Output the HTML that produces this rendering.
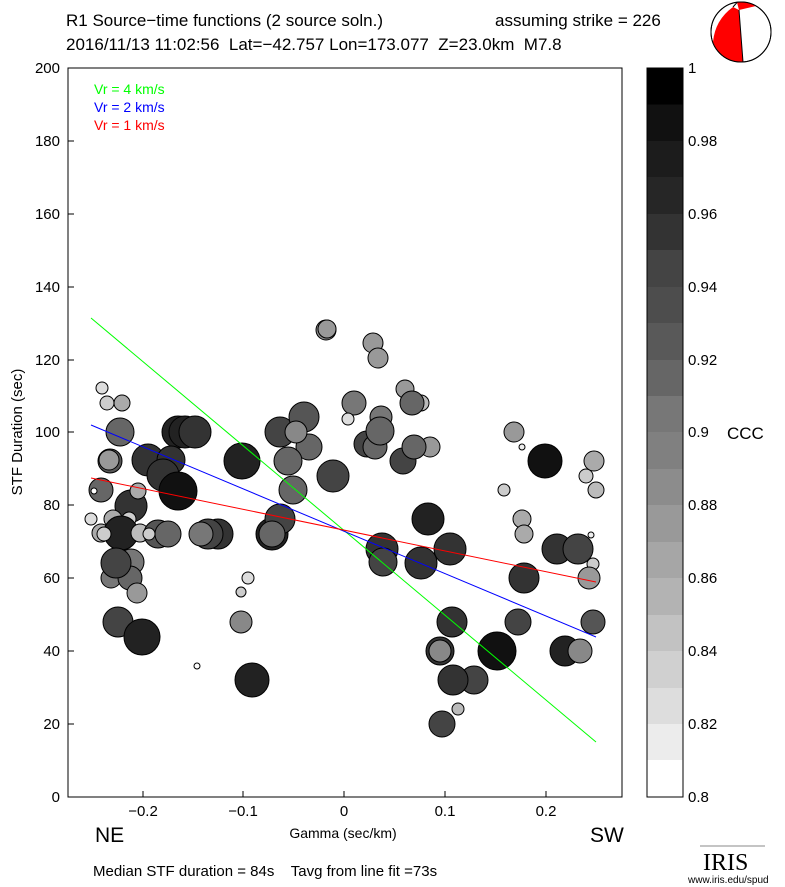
<!DOCTYPE html>
<html><head><style>body{margin:0;background:#fff}svg{display:block;font-family:"Liberation Sans",sans-serif}text{white-space:pre}</style></head><body>
<svg width="785" height="887" viewBox="0 0 785 887" xmlns="http://www.w3.org/2000/svg">
<rect width="785" height="887" fill="#fff"/>
<text x="66" y="26" font-size="17">R1 Source−time functions (2 source soln.)</text>
<text x="495" y="26" font-size="17">assuming strike = 226</text>
<text x="66" y="50" font-size="17">2016/11/13 11:02:56  Lat=−42.757 Lon=173.077  Z=23.0km  M7.8</text>
<g transform="translate(741,32)">
<circle r="30" fill="#fff" stroke="#000"/>
<path d="M-8,-25 L-2,-22 L2,30 A30,30 0 0 1 -28,10 Q -26,-12 -8,-25 Z" fill="#f00"/>
<path d="M-4,-29.5 A30,30 0 0 1 15,-26 L-2,-22 Z" fill="#f00"/>
<path d="M-8,-25 L-4,-29.5 M-2,-22 L2,30" stroke="#000" fill="none"/>
<circle r="30" fill="none" stroke="#000"/>
</g>
<rect x="68" y="68" width="554" height="729" fill="none" stroke="#000"/>
<g stroke="#000">
<line x1="68" y1="797" x2="74" y2="797"/><line x1="68" y1="724" x2="74" y2="724"/><line x1="68" y1="651" x2="74" y2="651"/><line x1="68" y1="578" x2="74" y2="578"/><line x1="68" y1="505" x2="74" y2="505"/><line x1="68" y1="432" x2="74" y2="432"/><line x1="68" y1="360" x2="74" y2="360"/><line x1="68" y1="287" x2="74" y2="287"/><line x1="68" y1="214" x2="74" y2="214"/><line x1="68" y1="141" x2="74" y2="141"/>
<line x1="143" y1="797" x2="143" y2="791"/><line x1="243" y1="797" x2="243" y2="791"/><line x1="344" y1="797" x2="344" y2="791"/><line x1="445" y1="797" x2="445" y2="791"/><line x1="546" y1="797" x2="546" y2="791"/>
</g>
<g font-size="15" text-anchor="end">
<text x="60" y="802">0</text><text x="60" y="729">20</text><text x="60" y="656">40</text><text x="60" y="583">60</text><text x="60" y="510">80</text><text x="60" y="437">100</text><text x="60" y="365">120</text><text x="60" y="292">140</text><text x="60" y="219">160</text><text x="60" y="146">180</text><text x="60" y="73">200</text>
</g>
<g font-size="15" text-anchor="middle">
<text x="143" y="816">−0.2</text><text x="243" y="816">−0.1</text><text x="344" y="816">0</text><text x="445" y="816">0.1</text><text x="546" y="816">0.2</text>
</g>
<text x="343" y="838" font-size="14" text-anchor="middle">Gamma (sec/km)</text>
<text transform="translate(22,432) rotate(-90)" font-size="15" text-anchor="middle">STF Duration (sec)</text>
<text x="95" y="842" font-size="21">NE</text><text x="590" y="842" font-size="21">SW</text>
<text x="93" y="876" font-size="15">Median STF duration = 84s    Tavg from line fit =73s</text>
<text x="94" y="94" font-size="14" fill="#0f0">Vr = 4 km/s</text>
<text x="94" y="112" font-size="14" fill="#00f">Vr = 2 km/s</text>
<text x="94" y="130" font-size="14" fill="#f00">Vr = 1 km/s</text>
<g stroke="#000" stroke-width="1">
<circle cx="102" cy="388" r="6" fill="#ddd"/><circle cx="107" cy="403" r="7" fill="#ccc"/><circle cx="122" cy="403" r="8" fill="#aaa"/>
<circle cx="120" cy="432" r="14" fill="#666"/>
<circle cx="110" cy="461" r="12" fill="#555"/><circle cx="109" cy="460" r="10" fill="#999"/>
<circle cx="101" cy="490" r="12" fill="#666"/><circle cx="94" cy="491" r="3" fill="#fff"/>
<circle cx="178" cy="432" r="16" fill="#222"/><circle cx="185" cy="432" r="16" fill="#222"/><circle cx="195" cy="432" r="16" fill="#333"/>
<circle cx="148" cy="460" r="16" fill="#333"/><circle cx="171" cy="460" r="14" fill="#333"/><circle cx="163" cy="475" r="16" fill="#333"/>
<circle cx="131" cy="506" r="16" fill="#333"/><circle cx="138" cy="491" r="8" fill="#aaa"/>
<circle cx="178" cy="491" r="19" fill="#111"/>
<circle cx="91" cy="519" r="6" fill="#ddd"/><circle cx="113" cy="519" r="9" fill="#aaa"/><circle cx="129" cy="519" r="7" fill="#ccc"/>
<circle cx="101" cy="533" r="9" fill="#aaa"/><circle cx="121" cy="533" r="17" fill="#222"/><circle cx="104" cy="534" r="7" fill="#ccc"/>
<circle cx="140" cy="533" r="9" fill="#bbb"/><circle cx="158" cy="534" r="14" fill="#555"/><circle cx="168" cy="534" r="13" fill="#666"/><circle cx="149" cy="534" r="6" fill="#ccc"/>
<circle cx="218" cy="534" r="15" fill="#333"/><circle cx="208" cy="534" r="15" fill="#444"/><circle cx="201" cy="534" r="12" fill="#777"/>
<circle cx="272" cy="534" r="16" fill="#222"/><circle cx="280" cy="519" r="15" fill="#444"/><circle cx="272" cy="534" r="13" fill="#666"/>
<circle cx="131" cy="562" r="13" fill="#777"/><circle cx="111" cy="578" r="10" fill="#777"/><circle cx="130" cy="578" r="12" fill="#666"/><circle cx="137" cy="593" r="10" fill="#999"/><circle cx="116" cy="563" r="15" fill="#444"/>
<circle cx="248" cy="578" r="6" fill="#ddd"/><circle cx="241" cy="592" r="5" fill="#ccc"/><circle cx="241" cy="622" r="11" fill="#888"/>
<circle cx="118" cy="622" r="15" fill="#444"/><circle cx="142" cy="637" r="18" fill="#222"/>
<circle cx="197" cy="666" r="3" fill="#fff"/><circle cx="252" cy="680" r="17" fill="#222"/>
<circle cx="242" cy="461" r="18" fill="#222"/>
<circle cx="280" cy="432" r="15" fill="#444"/><circle cx="304" cy="417" r="15" fill="#555"/><circle cx="309" cy="447" r="13" fill="#666"/><circle cx="296" cy="432" r="11" fill="#888"/><circle cx="288" cy="461" r="14" fill="#666"/><circle cx="293" cy="490" r="14" fill="#666"/>
<circle cx="333" cy="476" r="16" fill="#444"/>
<circle cx="326" cy="330" r="10" fill="#888"/><circle cx="327" cy="329" r="9" fill="#999"/>
<circle cx="373" cy="343" r="10" fill="#999"/><circle cx="378" cy="358" r="10" fill="#999"/>
<circle cx="354" cy="403" r="12" fill="#777"/><circle cx="381" cy="417" r="11" fill="#777"/><circle cx="348" cy="419" r="6" fill="#ddd"/>
<circle cx="367" cy="444" r="13" fill="#444"/><circle cx="375" cy="447" r="12" fill="#666"/><circle cx="380" cy="431" r="14" fill="#666"/>
<circle cx="405" cy="389" r="9" fill="#999"/><circle cx="421" cy="403" r="8" fill="#bbb"/><circle cx="412" cy="403" r="12" fill="#666"/>
<circle cx="430" cy="447" r="10" fill="#999"/><circle cx="403" cy="461" r="13" fill="#444"/><circle cx="414" cy="447" r="12" fill="#666"/>
<circle cx="428" cy="519" r="16" fill="#222"/>
<circle cx="382" cy="549" r="16" fill="#333"/><circle cx="383" cy="562" r="14" fill="#444"/>
<circle cx="421" cy="563" r="16" fill="#333"/><circle cx="450" cy="549" r="16" fill="#333"/>
<circle cx="452" cy="622" r="15" fill="#333"/>
<circle cx="440" cy="651" r="14" fill="#333"/><circle cx="440" cy="651" r="11" fill="#888"/>
<circle cx="474" cy="680" r="14" fill="#444"/><circle cx="453" cy="680" r="15" fill="#333"/>
<circle cx="458" cy="709" r="6" fill="#bbb"/><circle cx="442" cy="724" r="13" fill="#444"/>
<circle cx="497" cy="651" r="19" fill="#111"/>
<circle cx="514" cy="432" r="10" fill="#999"/><circle cx="522" cy="447" r="3" fill="#eee"/>
<circle cx="504" cy="490" r="6" fill="#ccc"/><circle cx="522" cy="519" r="9" fill="#aaa"/><circle cx="524" cy="534" r="9" fill="#aaa"/>
<circle cx="524" cy="578" r="15" fill="#333"/><circle cx="518" cy="622" r="13" fill="#444"/>
<circle cx="545" cy="461" r="17" fill="#111"/>
<circle cx="557" cy="549" r="15" fill="#333"/><circle cx="565" cy="651" r="15" fill="#222"/><circle cx="578" cy="549" r="15" fill="#444"/><circle cx="580" cy="651" r="12" fill="#888"/>
<circle cx="586" cy="476" r="7" fill="#ccc"/><circle cx="591" cy="535" r="3" fill="#eee"/><circle cx="593" cy="564" r="6" fill="#ccc"/><circle cx="589" cy="578" r="11" fill="#999"/>
<circle cx="594" cy="461" r="10" fill="#aaa"/><circle cx="596" cy="490" r="8" fill="#bbb"/><circle cx="593" cy="622" r="12" fill="#555"/>
</g>
<line x1="91" y1="318" x2="596" y2="742" stroke="#0f0"/>
<line x1="91" y1="425" x2="596" y2="637" stroke="#00f"/>
<line x1="91" y1="478" x2="596" y2="582" stroke="#f00"/>
<g>
<rect x="647" y="68" width="36" height="37" fill="#000"/><rect x="647" y="104.5" width="36" height="37" fill="#111"/><rect x="647" y="141" width="36" height="37" fill="#1c1c1c"/><rect x="647" y="177" width="36" height="37" fill="#262626"/><rect x="647" y="214" width="36" height="37" fill="#333"/><rect x="647" y="250" width="36" height="37" fill="#444"/><rect x="647" y="287" width="36" height="37" fill="#4d4d4d"/><rect x="647" y="323" width="36" height="37" fill="#595959"/><rect x="647" y="360" width="36" height="37" fill="#666"/><rect x="647" y="396" width="36" height="37" fill="#777"/><rect x="647" y="432" width="36" height="37" fill="#808080"/><rect x="647" y="469" width="36" height="37" fill="#8c8c8c"/><rect x="647" y="505" width="36" height="37" fill="#999"/><rect x="647" y="542" width="36" height="37" fill="#a6a6a6"/><rect x="647" y="578" width="36" height="37" fill="#b3b3b3"/><rect x="647" y="615" width="36" height="37" fill="#c2c2c2"/><rect x="647" y="651" width="36" height="37" fill="#d0d0d0"/><rect x="647" y="688" width="36" height="37" fill="#ddd"/><rect x="647" y="724" width="36" height="37" fill="#ececec"/><rect x="647" y="760" width="36" height="37" fill="#fff"/>
<rect x="647" y="68" width="36" height="729" fill="none" stroke="#000"/>
</g>
<g font-size="15">
<text x="688" y="73">1</text><text x="688" y="146">0.98</text><text x="688" y="219">0.96</text><text x="688" y="292">0.94</text><text x="688" y="365">0.92</text><text x="688" y="437">0.9</text><text x="688" y="510">0.88</text><text x="688" y="583">0.86</text><text x="688" y="656">0.84</text><text x="688" y="729">0.82</text><text x="688" y="802">0.8</text>
</g>
<text x="727" y="439" font-size="17">CCC</text>
<text x="703" y="870" font-size="24" font-family="Liberation Serif,serif">IRIS</text>
<line x1="700" y1="846" x2="765" y2="846" stroke="#888"/>
<text x="688" y="883" font-size="10">www.iris.edu/spud</text>
</svg>
</body></html>
